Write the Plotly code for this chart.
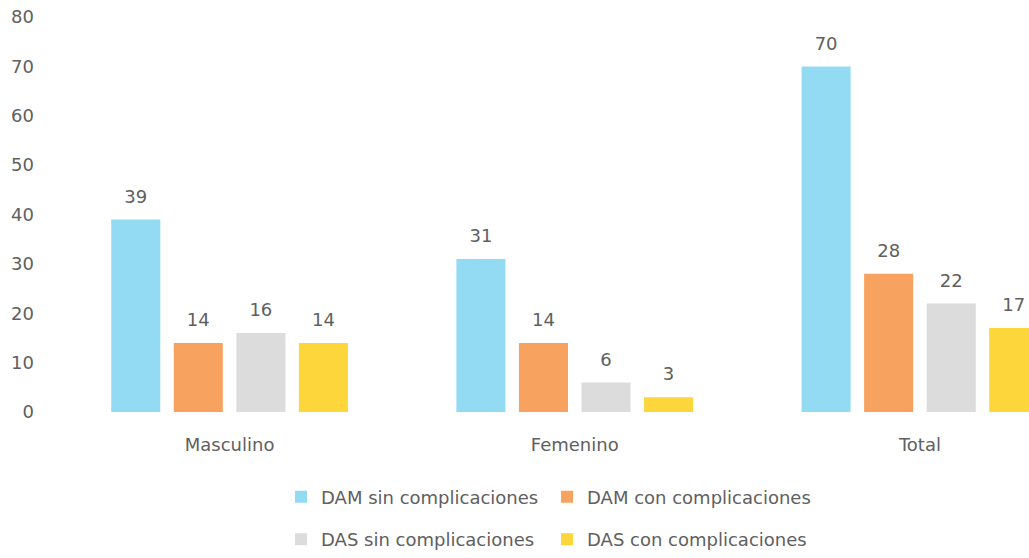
import plotly.graph_objects as go

categories = ["Masculino", "Femenino", "Total"]
series_names = ["DAM sin complicaciones", "DAM con complicaciones",
                "DAS sin complicaciones", "DAS con complicaciones"]
dam_sin = [39, 31, 70]
dam_con = [14, 14, 28]
das_sin = [16, 6, 22]
das_con = [14, 3, 17]
y_ticks = [0, 10, 20, 30, 40, 50, 60, 70, 80]

values = [dam_sin, dam_con, das_sin, das_con]
colors = ["#92DBF3", "#F7A35F", "#DCDCDC", "#FCD63A"]
legends = ["legend", "legend", "legend2", "legend2"]

font_family = "'DejaVu Sans', sans-serif"
text_color = "#606060"
fs = 18

fig = go.Figure()
for i, (name, vals, col, lg) in enumerate(zip(series_names, values, colors, legends)):
    fig.add_trace(go.Bar(
        x=categories, y=vals, name=name,
        marker=dict(color=col, line=dict(width=0)),
        offsetgroup=str(i), legend=lg,
    ))
# value labels, placed over each bar with grouped scatter
for i, vals in enumerate(values):
    fig.add_trace(go.Scatter(
        x=categories, y=vals, mode="markers+text",
        text=[str(v) for v in vals], textposition="top center",
        textfont=dict(size=fs, color=text_color, family=font_family),
        marker=dict(size=18, opacity=0),
        offsetgroup=str(i), showlegend=False, hoverinfo="skip",
        cliponaxis=False,
    ))

fig.update_layout(
    width=1029, height=558,
    margin=dict(l=57, r=0, t=17, b=145),
    paper_bgcolor="white", plot_bgcolor="white",
    barmode="group", bargap=0.275, bargroupgap=0.216,
    scattermode="group", scattergap=0.275,
    font=dict(family=font_family, size=fs, color=text_color),
    xaxis=dict(range=[-0.5, 2.316], showline=False, showgrid=False,
               ticks="", tickfont=dict(size=fs, color=text_color),
               ticklabelstandoff=20, automargin=False),
    yaxis=dict(range=[0, 80], tickvals=y_ticks, showgrid=False,
               zeroline=False, showline=False, ticks="",
               tickfont=dict(size=fs, color=text_color),
               ticklabelstandoff=22, automargin=False),
    legend=dict(orientation="h", x=0.2305, y=-0.212, xanchor="left",
                yanchor="middle", font=dict(size=fs, color=text_color),
                entrywidth=221, entrywidthmode="pixels",
                itemwidth=30, traceorder="normal"),
    legend2=dict(orientation="h", x=0.2305, y=-0.323, xanchor="left",
                 yanchor="middle", font=dict(size=fs, color=text_color),
                 entrywidth=221, entrywidthmode="pixels",
                 itemwidth=30, traceorder="normal"),
    showlegend=True,
)

fig.write_html("out.html", config={"displayModeBar": False},
               post_script="document.body.style.margin='0px';")
